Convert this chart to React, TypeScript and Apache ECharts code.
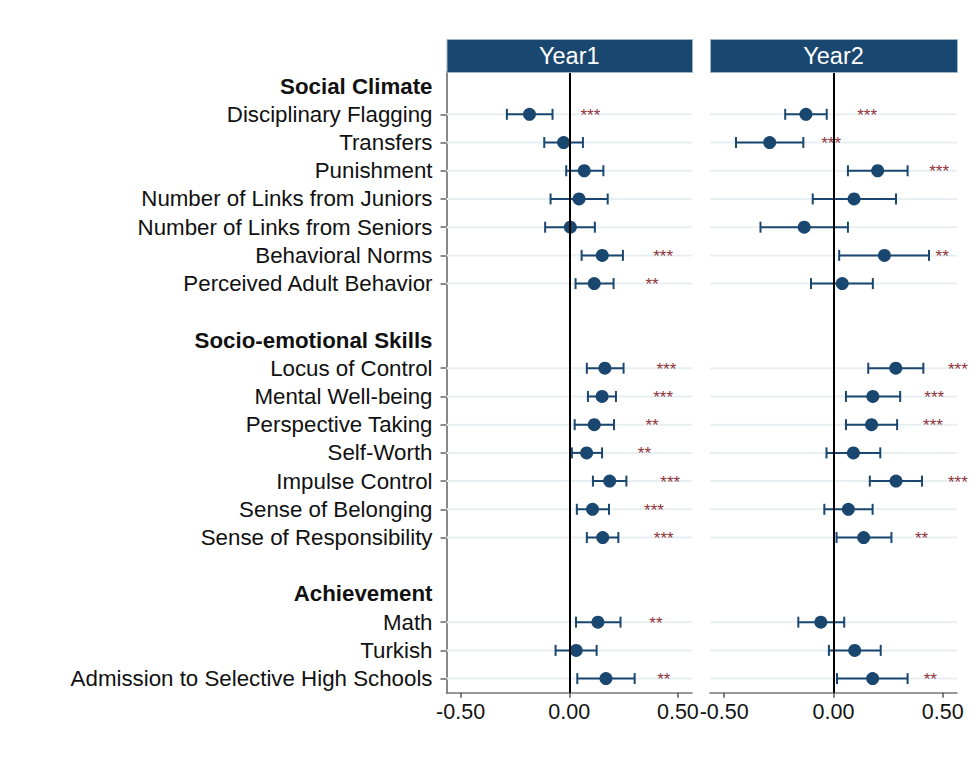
import React, { useEffect, useRef } from "react";
import * as echarts from "echarts";

const categories = [
  "Social Climate",
  "Disciplinary Flagging",
  "Transfers",
  "Punishment",
  "Number of Links from Juniors",
  "Number of Links from Seniors",
  "Behavioral Norms",
  "Perceived Adult Behavior",
  " ",
  "Socio-emotional Skills",
  "Locus of Control",
  "Mental Well-being",
  "Perspective Taking",
  "Self-Worth",
  "Impulse Control",
  "Sense of Belonging",
  "Sense of Responsibility",
  "  ",
  "Achievement",
  "Math",
  "Turkish",
  "Admission to Selective High Schools",
];

const groupHeaders = ["Social Climate", "Socio-emotional Skills", "Achievement"];

const outcomes = [
  "Disciplinary Flagging",
  "Transfers",
  "Punishment",
  "Number of Links from Juniors",
  "Number of Links from Seniors",
  "Behavioral Norms",
  "Perceived Adult Behavior",
  "Locus of Control",
  "Mental Well-being",
  "Perspective Taking",
  "Self-Worth",
  "Impulse Control",
  "Sense of Belonging",
  "Sense of Responsibility",
  "Math",
  "Turkish",
  "Admission to Selective High Schools",
];

const panelTitles = ["Year1", "Year2"];
const xTicks = [-0.5, 0, 0.5];

const year1Est = [-0.183, -0.026, 0.069, 0.045, 0.005, 0.152, 0.115, 0.164, 0.151, 0.115, 0.08, 0.186, 0.107, 0.154, 0.132, 0.032, 0.169];
const year1Lo = [-0.287, -0.115, -0.014, -0.086, -0.111, 0.057, 0.029, 0.081, 0.086, 0.025, 0.012, 0.109, 0.035, 0.081, 0.031, -0.063, 0.037];
const year1Hi = [-0.077, 0.063, 0.157, 0.177, 0.118, 0.247, 0.204, 0.25, 0.215, 0.206, 0.151, 0.263, 0.183, 0.226, 0.236, 0.126, 0.301];
const year1Stars = ["***", "", "", "", "", "***", "**", "***", "***", "**", "**", "***", "***", "***", "**", "", "**"];
const year1StarX = [0.097, null, null, null, null, 0.432, 0.381, 0.447, 0.432, 0.381, 0.346, 0.465, 0.39, 0.435, 0.399, null, 0.435];

const year2Est = [-0.126, -0.292, 0.202, 0.094, -0.134, 0.233, 0.04, 0.285, 0.18, 0.174, 0.091, 0.286, 0.068, 0.138, -0.058, 0.097, 0.179];
const year2Lo = [-0.221, -0.446, 0.066, -0.095, -0.334, 0.026, -0.103, 0.159, 0.057, 0.057, -0.032, 0.166, -0.042, 0.014, -0.161, -0.021, 0.016];
const year2Hi = [-0.031, -0.138, 0.339, 0.286, 0.066, 0.437, 0.18, 0.411, 0.305, 0.291, 0.214, 0.405, 0.179, 0.265, 0.049, 0.216, 0.339];
const year2Stars = ["***", "***", "***", "", "", "**", "", "***", "***", "***", "", "***", "", "**", "", "", "**"];
const year2StarX = [0.154, -0.011, 0.483, null, null, 0.497, null, 0.569, 0.461, 0.455, null, 0.569, null, 0.403, null, null, 0.443];

const NAVY = "#1a476f";
const MAROON = "#90353b";
const FONT = "'Liberation Sans', Arial, sans-serif";

const grids = [
  { left: 446.5, top: 72, width: 245.5, height: 620.7 },
  { left: 710, top: 72, width: 247, height: 620.7 },
];

export default function App() {
  const ref = useRef<HTMLDivElement>(null);

  useEffect(() => {
    if (!ref.current) return;
    const chart = echarts.init(ref.current, null, { renderer: "svg" });

    const catIndex = (name: string) => categories.indexOf(name);
    const isItem = (idx: number) => outcomes.indexOf(categories[idx]) >= 0;

    const panels = [
      { est: year1Est, lo: year1Lo, hi: year1Hi, stars: year1Stars, starX: year1StarX },
      { est: year2Est, lo: year2Lo, hi: year2Hi, stars: year2Stars, starX: year2StarX },
    ];

    const xAxes = grids.map((_, gi) => ({
      type: "value",
      gridIndex: gi,
      min: -0.565,
      max: 0.565,
      axisLine: { show: true, lineStyle: { color: "#777", width: 1.5 } },
      axisTick: { show: true, customValues: xTicks, length: 5, lineStyle: { color: "#555", width: 1.5 } },
      axisLabel: {
        customValues: xTicks,
        formatter: (v: number) => v.toFixed(2),
        fontSize: 21.5,
        fontFamily: FONT,
        color: "#111",
        margin: 8,
      },
      splitLine: { show: false },
    }));

    const yAxes = grids.map((_, gi) => ({
      type: "category",
      gridIndex: gi,
      data: categories,
      inverse: true,
      axisLine: { show: gi === 0, onZero: false, lineStyle: { color: "#888", width: 2 } },
      axisTick: {
        show: gi === 0,
        alignWithLabel: true,
        interval: (index: number) => isItem(index),
        length: 6,
        lineStyle: { color: "#666", width: 1.5 },
      },
      axisLabel: {
        show: gi === 0,
        interval: 0,
        margin: 14,
        fontSize: 22.3,
        fontFamily: FONT,
        color: "#111",
        formatter: (v: string) => {
          if (groupHeaders.indexOf(v) >= 0) return `{b|${v}}`;
          if (v.trim() === "") return "";
          return v;
        },
        rich: {
          b: { fontWeight: "bold", fontSize: 22.3, fontFamily: FONT, color: "#111" },
        },
      },
      splitLine: { show: false },
    }));

    const series: any[] = [];
    panels.forEach((p, gi) => {
      const gridData = outcomes.map((o) => [0, catIndex(o)]);
      series.push({
        type: "custom",
        xAxisIndex: gi,
        yAxisIndex: gi,
        z: 1,
        silent: true,
        data: gridData,
        renderItem: (params: any, api: any) => {
          const cs = params.coordSys;
          const y = api.coord([0, api.value(1)])[1];
          return {
            type: "line",
            shape: { x1: cs.x, y1: y, x2: cs.x + cs.width, y2: y },
            style: { stroke: "#e8eff3", lineWidth: 2 },
          };
        },
        markLine: {
          silent: true,
          symbol: ["none", "none"],
          label: { show: false },
          lineStyle: { color: "#000", width: 2, type: "solid" },
          data: [{ xAxis: 0 }],
        },
      });
      series.push({
        type: "custom",
        xAxisIndex: gi,
        yAxisIndex: gi,
        z: 2,
        silent: true,
        encode: { x: [0, 1], y: 2 },
        data: outcomes.map((o, i) => [p.lo[i], p.hi[i], catIndex(o)]),
        renderItem: (params: any, api: any) => {
          const a = api.coord([api.value(0), api.value(2)]);
          const b = api.coord([api.value(1), api.value(2)]);
          const h = 5.5;
          const st = { stroke: NAVY, lineWidth: 2 };
          return {
            type: "group",
            children: [
              { type: "line", shape: { x1: a[0], y1: a[1], x2: b[0], y2: b[1] }, style: st },
              { type: "line", shape: { x1: a[0], y1: a[1] - h, x2: a[0], y2: a[1] + h }, style: st },
              { type: "line", shape: { x1: b[0], y1: b[1] - h, x2: b[0], y2: b[1] + h }, style: st },
            ],
          };
        },
      });
      series.push({
        type: "scatter",
        xAxisIndex: gi,
        yAxisIndex: gi,
        z: 3,
        symbol: "circle",
        symbolSize: 13,
        itemStyle: { color: NAVY, opacity: 1 },
        data: outcomes.map((o, i) => [p.est[i], catIndex(o)]),
      });
      const starData: any[] = [];
      const starText: string[] = [];
      outcomes.forEach((o, i) => {
        if (p.stars[i] && p.starX[i] != null) {
          starData.push([p.starX[i], catIndex(o)]);
          starText.push(p.stars[i]);
        }
      });
      series.push({
        type: "custom",
        xAxisIndex: gi,
        yAxisIndex: gi,
        z: 4,
        silent: true,
        clip: false,
        data: starData,
        renderItem: (params: any, api: any) => {
          const c = api.coord([api.value(0), api.value(1)]);
          return {
            type: "text",
            x: c[0],
            y: c[1] + 1,
            style: {
              text: starText[params.dataIndex],
              fill: MAROON,
              font: `17px ${FONT}`,
              align: "center",
              verticalAlign: "middle",
            },
          };
        },
      });
    });

    const graphics: any[] = [];
    grids.forEach((g, gi) => {
      graphics.push({
        type: "rect",
        left: g.left,
        top: 39,
        shape: { width: g.width, height: 33 },
        style: { fill: NAVY, stroke: "#9fb4c7", lineWidth: 1 },
        z: 10,
      });
      graphics.push({
        type: "text",
        x: g.left + g.width / 2,
        y: 56,
        style: {
          text: panelTitles[gi],
          fill: "#fff",
          font: `23.5px ${FONT}`,
          align: "center",
          verticalAlign: "middle",
        },
        z: 11,
      });
    });

    chart.setOption({
      animation: false,
      backgroundColor: "#fff",
      grid: grids.map((g) => ({ left: g.left, top: g.top, width: g.width, height: g.height, containLabel: false })),
      xAxis: xAxes,
      yAxis: yAxes,
      series,
      graphic: graphics,
    });

    return () => chart.dispose();
  }, []);

  return (
    <div
      ref={ref}
      style={{ position: "fixed", left: 0, top: 0, width: 980, height: 767, background: "#fff" }}
    />
  );
}
